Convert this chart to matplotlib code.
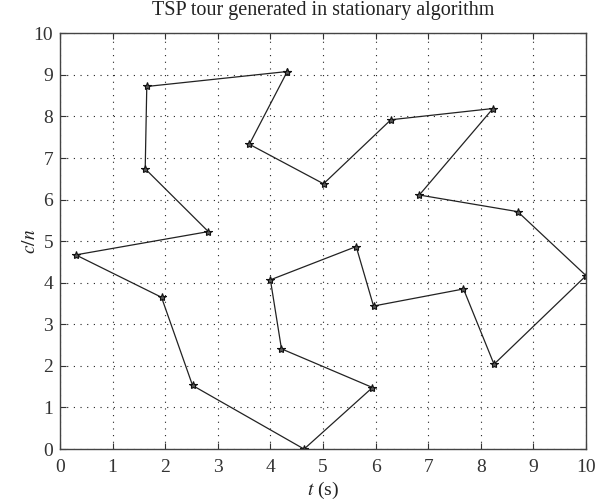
import matplotlib
matplotlib.use('agg')
import matplotlib.pyplot as plt

plt.rcParams['font.family'] = ['Liberation Serif', 'DejaVu Serif']
plt.rcParams['mathtext.fontset'] = 'stix'

# tour order (closed loop)
tour_x = [4.32, 1.65, 1.62, 2.82, 0.30, 1.93, 2.52, 4.64, 5.94, 4.21, 4.00,
          5.63, 5.96, 7.67, 8.25, 10.00, 8.70, 6.83, 8.23, 6.29, 5.01, 3.60, 4.32]
tour_y = [9.08, 8.72, 6.74, 5.23, 4.67, 3.65, 1.53, 0.00, 1.48, 2.41, 4.07,
          4.87, 3.44, 3.85, 2.04, 4.17, 5.71, 6.11, 8.19, 7.92, 6.38, 7.33, 9.08]
ticks = list(range(0, 11))

fig = plt.figure(figsize=(5.95, 5.04), dpi=100)
ax = fig.add_axes([0.1008, 0.109, 0.8842, 0.825])

ax.plot(tour_x, tour_y, color='#222222', linewidth=0.9,
        marker='*', markersize=6, markerfacecolor='#555555',
        markeredgecolor='#111111', markeredgewidth=0.8)

ax.set_xlim(0, 10)
ax.set_ylim(0, 10)
ax.set_xticks(ticks)
ax.set_yticks(ticks)
ax.tick_params(direction='in', top=True, right=True, length=4, width=0.8,
               labelsize=14, colors='#333333', pad=5)
ax.tick_params(axis='x', pad=7)
ax.grid(True, linestyle=(0, (1, 5)), color='#222222', linewidth=0.8)
for s in ax.spines.values():
    s.set_linewidth(1.0)
    s.set_color('#444444')

ax.set_title('TSP tour generated in stationary algorithm', fontsize=14.5, pad=13,
             color='#222222')
ax.set_xlabel('$t$ (s)', fontsize=14, labelpad=3, color='#222222')
ax.set_ylabel('$c/n$', fontsize=14, color='#222222')
ax.yaxis.set_label_coords(-0.04, 0.5)

plt.savefig('out.png', dpi=100)
